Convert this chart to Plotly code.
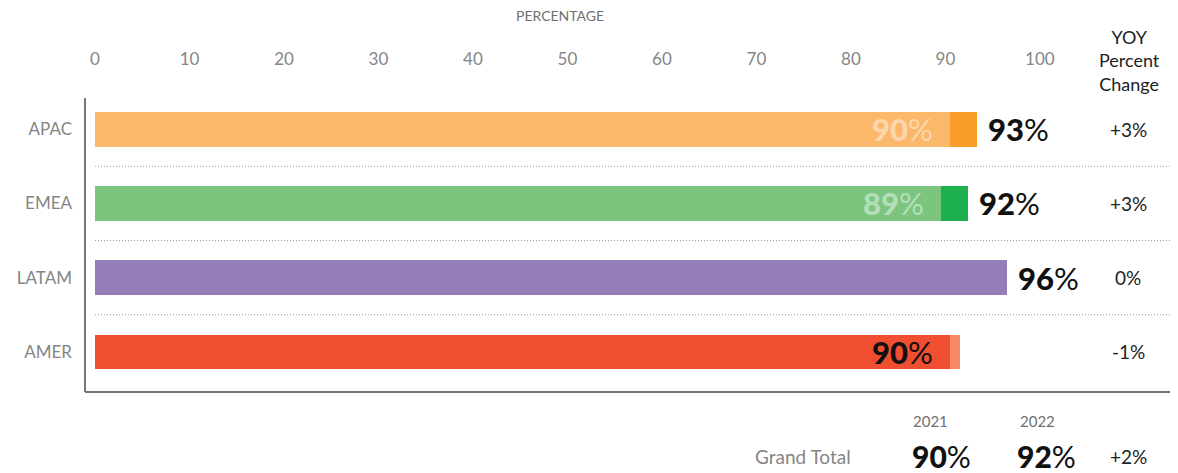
import plotly.graph_objects as go

# ---- data ----
regions = ["APAC", "EMEA", "LATAM", "AMER"]
val_2021 = [90.5, 89.5, 96.5, 91.5]
val_2022 = [93.3, 92.4, 96.5, 90.5]
label_2021 = [90, 89, 96, 91]
label_2022 = [93, 92, 96, 90]
yoy_change = ["+3%", "+3%", "0%", "-1%"]
color_2021 = ["#FBB86B", "#7BC57F", "#957DB8", "#F5896A"]
color_2022 = ["#F99D2A", "#1DB04F", "#957DB8", "#F04E30"]
x_ticks = [0, 10, 20, 30, 40, 50, 60, 70, 80, 90, 100]
total_2021 = "90%"
total_2022 = "92%"
total_change = "+2%"

FONT = "Lato"
GRAY = "#858585"
BLACK = "#111111"
BIG = 31


def big(num):
    return f"<span style='font-weight:900'>{num}</span>%"


ypos = list(range(len(regions)))

# back bar = longer value, front bar = shorter value
back_x, back_c, front_x, front_c = [], [], [], []
for a, b, ca, cb in zip(val_2021, val_2022, color_2021, color_2022):
    if a >= b:
        back_x.append(a); back_c.append(ca); front_x.append(b); front_c.append(cb)
    else:
        back_x.append(b); back_c.append(cb); front_x.append(a); front_c.append(ca)

fig = go.Figure()
fig.add_trace(go.Bar(y=ypos, x=back_x, orientation="h", marker=dict(color=back_c, line=dict(width=0)),
                     width=0.467, hoverinfo="skip", showlegend=False))
fig.add_trace(go.Bar(y=ypos, x=front_x, orientation="h", marker=dict(color=front_c, line=dict(width=0)),
                     width=0.467, hoverinfo="skip", showlegend=False))

XMAX = 114.3
annotations = []
for i, r in enumerate(regions):
    a, b = val_2021[i], val_2022[i]
    # inner label
    if b > a:
        annotations.append(dict(x=a, y=i, xref="x", yref="y", xanchor="right", yanchor="middle", xshift=-15,
                                text=big(label_2021[i]), showarrow=False,
                                font=dict(family=FONT, size=BIG, color="rgba(255,255,255,0.45)")))
    elif b < a:
        annotations.append(dict(x=b, y=i, xref="x", yref="y", xanchor="right", yanchor="middle", xshift=-15,
                                text=big(label_2022[i]), showarrow=False,
                                font=dict(family=FONT, size=BIG, color=BLACK)))
    if b >= a:
        annotations.append(dict(x=b, y=i, xref="x", yref="y", xanchor="left", yanchor="middle", xshift=9,
                                text=big(label_2022[i]), showarrow=False,
                                font=dict(family=FONT, size=BIG, color=BLACK)))
    annotations.append(dict(x=0.957, y=i, xref="paper", yref="y", xanchor="center", yanchor="middle",
                            text=yoy_change[i], showarrow=False,
                            font=dict(family=FONT, size=19, color="#222222")))


def ann(x, y, text, size, color):
    return dict(x=x, y=y, xref="paper", yref="paper", xanchor="center", yanchor="middle",
                text=text, showarrow=False, borderpad=0, font=dict(family=FONT, size=size, color=color))


annotations += [
    ann(0.4357, 1.279, "PERCENTAGE", 14, "#707070"),
    ann(0.9587, 1.129, "YOY<br>Percent<br>Change", 18, "#222222"),
    ann(0.776, -0.099, "2021", 15, "#707070"),
    ann(0.874, -0.099, "2022", 15, "#707070"),
    ann(0.659, -0.218, "Grand Total", 19, GRAY),
    ann(0.786, -0.218, big(total_2021[:-1]), 30, BLACK),
    ann(0.882, -0.218, big(total_2022[:-1]), 30, BLACK),
    ann(0.957, -0.218, total_change, 19, "#222222"),
]

shapes = []
for k in range(len(regions) - 1):
    shapes.append(dict(type="line", xref="x", yref="y", x0=0, x1=XMAX, y0=k + 0.5, y1=k + 0.5,
                       line=dict(color="#999999", width=1, dash="1px,2px")))

# page body adds an 8px offset, so the figure is 8px smaller and margins shifted
fig.update_layout(
    width=1170, height=465,
    margin=dict(l=77, r=3, t=90, b=81, autoexpand=False),
    plot_bgcolor="white", paper_bgcolor="white",
    barmode="overlay", bargap=0,
    annotations=annotations, shapes=shapes,
    font=dict(family=FONT),
    xaxis=dict(range=[-1.06, XMAX], side="top", tickvals=x_ticks, ticks="", showgrid=False,
               zeroline=False, showline=False, ticklabelstandoff=29, automargin=False,
               tickfont=dict(family=FONT, size=17, color=GRAY)),
    yaxis=dict(range=[3.54, -0.42], tickvals=ypos, ticktext=regions, ticks="", showgrid=False,
               zeroline=False, showline=False, ticklabelstandoff=12, automargin=False,
               tickfont=dict(family=FONT, size=17, color=GRAY)),
)
# axis lines (left and bottom)
fig.add_shape(type="line", xref="paper", yref="paper", x0=0, x1=0, y0=0, y1=1,
              line=dict(color="#777777", width=2))
fig.add_shape(type="line", xref="paper", yref="paper", x0=0, x1=1, y0=0, y1=0,
              line=dict(color="#777777", width=2))

fig.write_html("out.html")
